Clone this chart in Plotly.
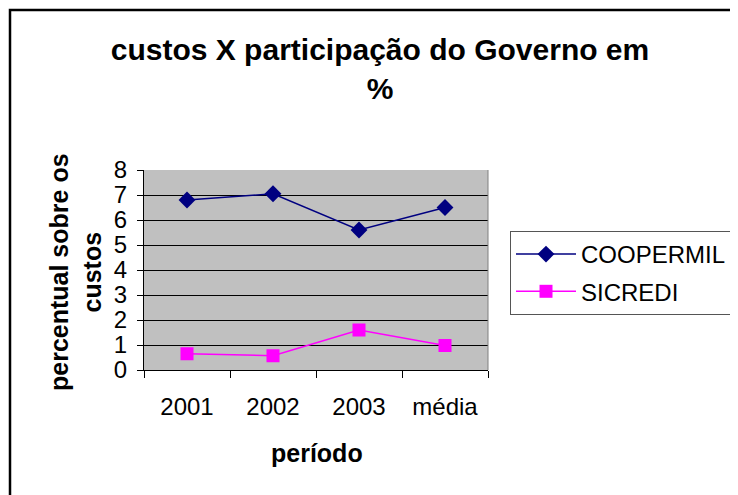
import plotly.graph_objects as go

categories = ["2001", "2002", "2003", "média"]
coopermil = [6.8, 7.05, 5.6, 6.5]
sicredi = [0.65, 0.57, 1.6, 0.98]
y_ticks = [0, 1, 2, 3, 4, 5, 6, 7, 8]

# page has an 8px body margin; work in figure pixel coordinates
OFF = 8
W, H = 738 - OFF, 495 - OFF
L, R, T, B = 144 - OFF, 488 - OFF, 170 - OFF, 370 - OFF

xpos = list(range(len(categories)))

fig = go.Figure()
fig.add_trace(go.Scatter(
    x=xpos, y=coopermil, name="COOPERMIL", mode="lines+markers",
    legendgroup="a",
    line=dict(color="#000080", width=1.5),
    marker=dict(symbol="diamond", size=13, color="#000080"),
))
fig.add_trace(go.Scatter(
    x=xpos, y=sicredi, name="SICREDI", mode="lines+markers",
    legendgroup="b",
    line=dict(color="#FF00FF", width=1.5),
    marker=dict(symbol="square", size=13, color="#FF00FF"),
))

def px_x(p):
    return (p - OFF - L) / (R - L)

def px_y(p):
    return (B - (p - OFF)) / (B - T)

font = "Liberation Sans, Arial, sans-serif"

fig.update_layout(
    width=W, height=H,
    margin=dict(l=L, r=W - R, t=T, b=H - B, pad=0, autoexpand=False),
    paper_bgcolor="white",
    plot_bgcolor="#C0C0C0",
    font=dict(family=font, size=24, color="black"),
    title=dict(
        text="<b>custos X participação do Governo em<br>%</b>",
        x=(380 - OFF) / W, xanchor="center", xref="container",
        y=1 - (60 - OFF) / H, yanchor="top", yref="container",
        font=dict(size=30, family=font, color="black"),
    ),
    xaxis=dict(
        range=[-0.5, len(categories) - 0.5],
        tickvals=xpos, ticktext=categories,
        ticks="", showgrid=False, zeroline=False,
        showline=True, linecolor="black", linewidth=1,
        tickfont=dict(size=24),
        ticklabelstandoff=15,
        minor=dict(tick0=0.5, dtick=1, ticks="outside", ticklen=7,
                   tickcolor="black", tickwidth=1, showgrid=False),
        fixedrange=True,
    ),
    yaxis=dict(
        range=[0, 8], tickvals=y_ticks,
        ticks="outside", ticklen=6, tickcolor="black",
        showgrid=True, gridcolor="black", gridwidth=1,
        zeroline=False, showline=True, linecolor="black", linewidth=1,
        tickfont=dict(size=24),
        ticklabelstandoff=5,
        fixedrange=True,
    ),
    legend=dict(
        xref="container", yref="container",
        x=(510 - OFF) / W, xanchor="left",
        y=1 - (231 - OFF) / H, yanchor="top",
        bordercolor="#555555", borderwidth=1,
        bgcolor="white",
        font=dict(size=24),
        itemwidth=60,
        tracegroupgap=3,
    ),
    showlegend=True,
)

# plot area right edge (gray)
fig.add_shape(type="line", xref="paper", yref="paper",
              x0=1, x1=1, y0=0, y1=1,
              line=dict(color="#808080", width=1))

# outer chart border
fig.add_shape(type="rect", xref="paper", yref="paper",
              x0=px_x(10), x1=px_x(760), y0=px_y(10), y1=px_y(520),
              line=dict(color="black", width=2.5), layer="above")

fig.add_annotation(
    text="<b>percentual sobre os<br>custos</b>",
    xref="paper", yref="paper", x=px_x(75), y=px_y(272),
    textangle=-90, showarrow=False,
    font=dict(size=25, family=font, color="black"),
    xanchor="center", yanchor="middle",
)

fig.add_annotation(
    text="<b>período</b>",
    xref="paper", yref="paper", x=px_x(317), y=px_y(453),
    showarrow=False,
    font=dict(size=25, family=font, color="black"),
    xanchor="center", yanchor="middle",
)

fig.write_html("out.html")
